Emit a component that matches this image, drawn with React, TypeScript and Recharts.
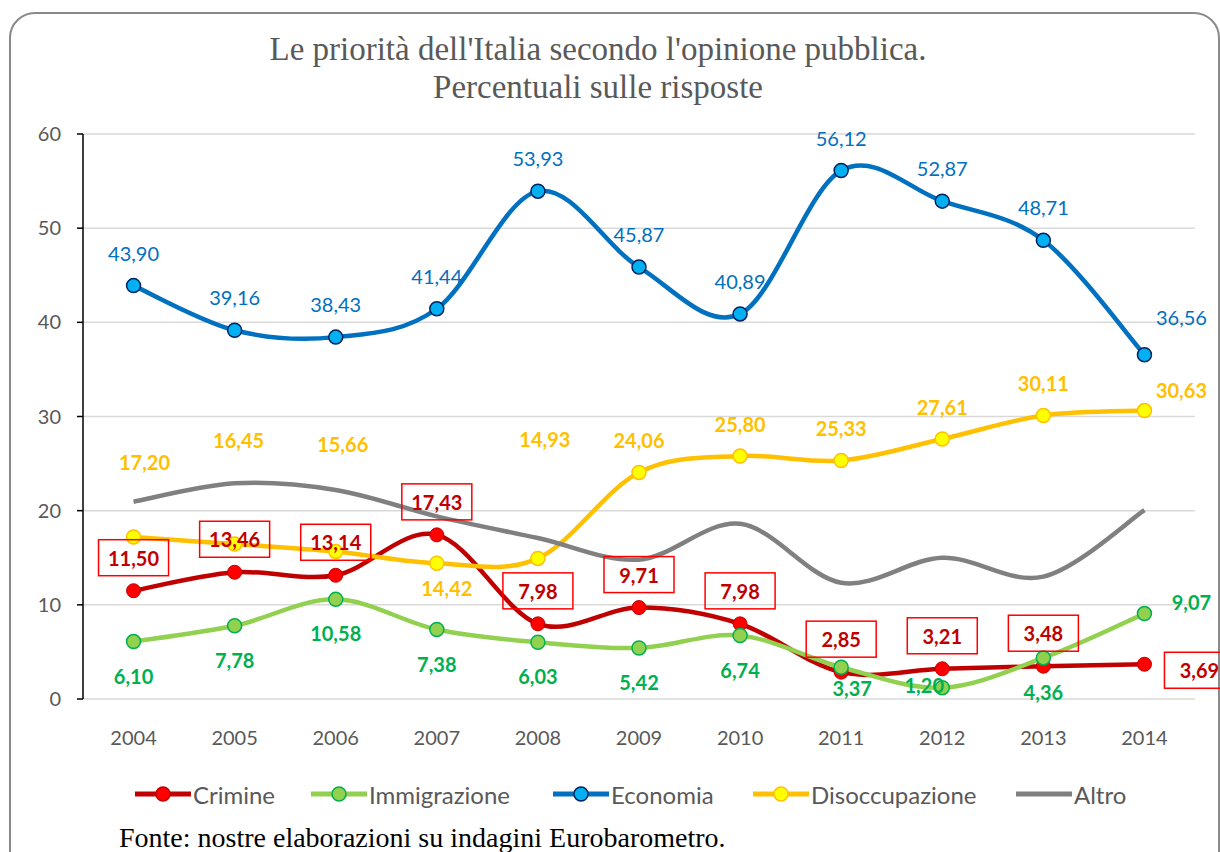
import React from 'react'
import { LineChart, Line, XAxis, YAxis, CartesianGrid, LabelList } from 'recharts'

const YEARS = [2004, 2005, 2006, 2007, 2008, 2009, 2010, 2011, 2012, 2013, 2014]
const BOUNDARIES = [2003.5, 2004.5, 2005.5, 2006.5, 2007.5, 2008.5, 2009.5, 2010.5, 2011.5, 2012.5, 2013.5, 2014.5]
const Y_TICKS = [0, 10, 20, 30, 40, 50, 60]

const CRIMINE = [11.5, 13.46, 13.14, 17.43, 7.98, 9.71, 7.98, 2.85, 3.21, 3.48, 3.69]
const IMMIGRAZIONE = [6.1, 7.78, 10.58, 7.38, 6.03, 5.42, 6.74, 3.37, 1.2, 4.36, 9.07]
const ECONOMIA = [43.9, 39.16, 38.43, 41.44, 53.93, 45.87, 40.89, 56.12, 52.87, 48.71, 36.56]
const DISOCCUPAZIONE = [17.2, 16.45, 15.66, 14.42, 14.93, 24.06, 25.8, 25.33, 27.61, 30.11, 30.63]
const ALTRO = [20.95, 22.9, 22.2, 19.4, 17.1, 14.8, 18.6, 12.35, 15.0, 13.0, 20.05]

const data = YEARS.map((year, i) => ({
  year,
  crimine: CRIMINE[i],
  immigrazione: IMMIGRAZIONE[i],
  economia: ECONOMIA[i],
  disoccupazione: DISOCCUPAZIONE[i],
  altro: ALTRO[i],
}))

// label placement (Excel had some labels dragged around by hand)
const labelShift = {
  crimine: { dx: 0, dy: -33, by: { 10: [55, 6] } as Record<number, number[]> },
  immigrazione: { dx: 0, dy: 34, by: { 7: [11, 21], 8: [-18, -3], 10: [47, -12] } as Record<number, number[]> },
  economia: { dx: 0, dy: -33, by: { 10: [37, -38] } as Record<number, number[]> },
  disoccupazione: {
    dx: 0,
    dy: -32,
    by: { 0: [11, -75], 1: [4, -104], 2: [7, -108], 3: [10, 25], 4: [7, -119], 10: [37, -21] } as Record<number, number[]>,
  },
}

const fmt = (v: number) => v.toFixed(2).replace('.', ',')

// Excel-like smoothed line (Catmull-Rom as cubic bezier)
const excelSmooth = (ctx: any) => {
  let pts: number[][] = []
  return {
    areaStart() {},
    areaEnd() {},
    lineStart() {
      pts = []
    },
    point(x: number, y: number) {
      pts.push([+x, +y])
    },
    lineEnd() {
      if (!pts.length) return
      ctx.moveTo(pts[0][0], pts[0][1])
      for (let i = 0; i < pts.length - 1; i++) {
        const p0 = pts[Math.max(0, i - 1)]
        const p1 = pts[i]
        const p2 = pts[i + 1]
        const p3 = pts[Math.min(pts.length - 1, i + 2)]
        ctx.bezierCurveTo(
          p1[0] + (p2[0] - p0[0]) / 6,
          p1[1] + (p2[1] - p0[1]) / 6,
          p2[0] - (p3[0] - p1[0]) / 6,
          p2[1] - (p3[1] - p1[1]) / 6,
          p2[0],
          p2[1]
        )
      }
    },
  }
}

function makeLabel(key: keyof typeof labelShift, color: string, bold: boolean, boxed = false) {
  return (props: any) => {
    const { x, y, value, index } = props
    const cfg = labelShift[key]
    const o = cfg.by[index] || [cfg.dx, cfg.dy]
    const cx = x + o[0]
    const cy = y + o[1]
    return (
      <g key={`${key}-${index}`}>
        {boxed && (
          <rect x={cx - 35} y={cy - 18} width={70} height={36} fill="none" stroke="#FF0000" strokeWidth={1.5} />
        )}
        <text
          x={cx}
          y={cy}
          textAnchor="middle"
          dominantBaseline="central"
          fill={color}
          fontSize={20}
          fontWeight={bold ? 700 : 400}
          fontFamily="Lato, sans-serif"
        >
          {fmt(value)}
        </text>
      </g>
    )
  }
}

const YearTick = (props: any) => {
  const { x, y, payload } = props
  return (
    <text x={x} y={y + 30} textAnchor="middle" dominantBaseline="central" fill="#595959" fontSize={20} fontFamily="Lato, sans-serif">
      {payload.value}
    </text>
  )
}

const LEGEND = [
  { name: 'Crimine', line: '#C00000', fill: '#FF0000', ring: '#C00000', left: 134 },
  { name: 'Immigrazione', line: '#92D050', fill: '#92D050', ring: '#00B050', left: 310 },
  { name: 'Economia', line: '#0070C0', fill: '#00B0F0', ring: '#002060', left: 552 },
  { name: 'Disoccupazione', line: '#FFC000', fill: '#FFFF00', ring: '#FFC000', left: 752 },
  { name: 'Altro', line: '#808080', fill: '', ring: '', left: 1015 },
]

export default function App() {
  return (
    <div
      style={{
        position: 'absolute',
        left: 0,
        top: 0,
        width: 1220,
        height: 852,
        overflow: 'hidden',
        background: '#fff',
        fontFamily: 'Lato, sans-serif',
      }}
    >
      <div
        style={{
          position: 'absolute',
          left: 9,
          top: 12,
          width: 1207,
          height: 900,
          border: '2px solid #8a8a8a',
          borderRadius: 26,
        }}
      />
      <div
        style={{
          position: 'absolute',
          left: 0,
          top: 30,
          width: 1196,
          textAlign: 'center',
          fontFamily: '"Liberation Serif", serif',
          fontSize: 33,
          lineHeight: '38px',
          color: '#595959',
        }}
      >
        Le priorità dell'Italia secondo l'opinione pubblica.
        <br />
        Percentuali sulle risposte
      </div>

      <div style={{ position: 'absolute', left: 0, top: 0 }}>
        <LineChart width={1220} height={852} data={data} margin={{ top: 134, right: 25, left: 33, bottom: 113 }}>
          <CartesianGrid horizontal vertical={false} stroke="#D9D9D9" strokeWidth={1.5} />
          <XAxis
            xAxisId="marks"
            dataKey="year"
            type="number"
            domain={[2003.5, 2014.5]}
            ticks={BOUNDARIES}
            tick={false}
            tickSize={8}
            height={0}
            axisLine={{ stroke: '#000', strokeWidth: 1.5 }}
            tickLine={{ stroke: '#000', strokeWidth: 1.5 }}
          />
          <XAxis
            xAxisId="yr"
            dataKey="year"
            type="number"
            domain={[2003.5, 2014.5]}
            ticks={YEARS}
            tick={<YearTick />}
            tickLine={false}
            axisLine={false}
            height={40}
          />
          <YAxis
            domain={[0, 60]}
            ticks={Y_TICKS}
            width={50}
            tickSize={6}
            tickMargin={16}
            axisLine={{ stroke: '#000', strokeWidth: 1.5 }}
            tickLine={{ stroke: '#000', strokeWidth: 1.5 }}
            tick={{ fill: '#595959', fontSize: 20, fontFamily: 'Lato, sans-serif' }}
          />

          <Line
            xAxisId="yr"
            dataKey="crimine"
            type={excelSmooth as any}
            stroke="#C00000"
            strokeWidth={4.5}
            dot={{ r: 7, fill: '#FF0000', stroke: '#C00000', strokeWidth: 1 }}
            activeDot={false}
            isAnimationActive={false}
          />
          <Line
            xAxisId="yr"
            dataKey="immigrazione"
            type={excelSmooth as any}
            stroke="#92D050"
            strokeWidth={4.5}
            dot={{ r: 7, fill: '#92D050', stroke: '#00B050', strokeWidth: 1.5 }}
            activeDot={false}
            isAnimationActive={false}
          />
          <Line
            xAxisId="yr"
            dataKey="economia"
            type={excelSmooth as any}
            stroke="#0070C0"
            strokeWidth={4.5}
            dot={{ r: 7, fill: '#00B0F0', stroke: '#002060', strokeWidth: 1.5 }}
            activeDot={false}
            isAnimationActive={false}
          />
          <Line
            xAxisId="yr"
            dataKey="disoccupazione"
            type={excelSmooth as any}
            stroke="#FFC000"
            strokeWidth={4.5}
            dot={{ r: 7, fill: '#FFFF00', stroke: '#FFC000', strokeWidth: 1.5 }}
            activeDot={false}
            isAnimationActive={false}
          />
          <Line
            xAxisId="yr"
            dataKey="altro"
            type={excelSmooth as any}
            stroke="#808080"
            strokeWidth={4.5}
            dot={false}
            activeDot={false}
            isAnimationActive={false}
          />

          {/* label layers, drawn after the lines so they sit on top */}
          <Line xAxisId="yr" dataKey="crimine" stroke="none" dot={false} activeDot={false} isAnimationActive={false}>
            <LabelList dataKey="crimine" content={makeLabel('crimine', '#C00000', true, true)} />
          </Line>
          <Line xAxisId="yr" dataKey="immigrazione" stroke="none" dot={false} activeDot={false} isAnimationActive={false}>
            <LabelList dataKey="immigrazione" content={makeLabel('immigrazione', '#00B050', true)} />
          </Line>
          <Line xAxisId="yr" dataKey="economia" stroke="none" dot={false} activeDot={false} isAnimationActive={false}>
            <LabelList dataKey="economia" content={makeLabel('economia', '#0070C0', false)} />
          </Line>
          <Line xAxisId="yr" dataKey="disoccupazione" stroke="none" dot={false} activeDot={false} isAnimationActive={false}>
            <LabelList dataKey="disoccupazione" content={makeLabel('disoccupazione', '#FFC000', true)} />
          </Line>
        </LineChart>
      </div>

      {LEGEND.map((item) => (
        <div
          key={item.name}
          style={{ position: 'absolute', left: item.left, top: 780, height: 28, display: 'flex', alignItems: 'center' }}
        >
          <svg width={58} height={20}>
            <line x1={1} y1={10} x2={57} y2={10} stroke={item.line} strokeWidth={5} />
            {item.fill && <circle cx={29} cy={10} r={7} fill={item.fill} stroke={item.ring} strokeWidth={1.5} />}
          </svg>
          <span style={{ fontSize: 24, color: '#595959', marginLeft: 1 }}>{item.name}</span>
        </div>
      ))}

      <div
        style={{
          position: 'absolute',
          left: 119,
          top: 821,
          fontFamily: '"Liberation Serif", serif',
          fontSize: 28,
          lineHeight: '34px',
          color: '#000',
        }}
      >
        Fonte: nostre elaborazioni su indagini Eurobarometro.
      </div>
    </div>
  )
}
